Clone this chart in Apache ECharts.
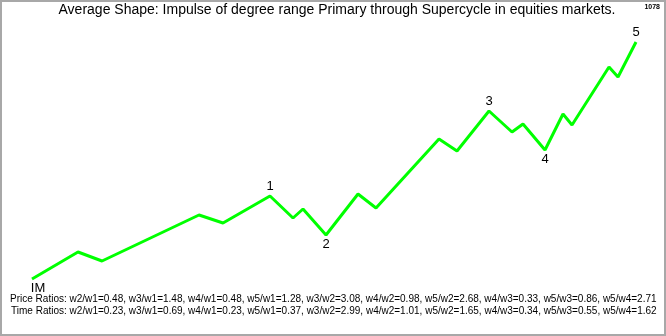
<!DOCTYPE html>
<html><head><meta charset="utf-8">
<script src="https://cdn.jsdelivr.net/npm/echarts@6/dist/echarts.min.js"></script>
<style>html,body{margin:0;padding:0;background:#fff;}#c{width:666px;height:336px;}</style>
</head><body><div id="c"></div>
<script>
// time (bars from IM) and price (from IM) of each vertex
const times  = [0, 46, 70, 167, 191, 238, 261, 271, 294, 326, 344, 407, 425, 457, 480, 491, 513, 531, 540, 577, 586, 604];
const prices = [0, 27, 18, 64, 56, 83, 61, 70, 44, 85, 71, 140, 128, 168, 147, 155, 129, 165, 154, 212, 202, 237];
const waveLabels = ['IM','','','','','1','','','2','','','','','3','','','4','','','','','5'];
const labelBelow = ['IM','2','4'];
const title = 'Average Shape: Impulse of degree range Primary through Supercycle in equities markets.';
const countText = '1078';
const priceRatios = 'Price Ratios: w2/w1=0.48, w3/w1=1.48, w4/w1=0.48, w5/w1=1.28, w3/w2=3.08, w4/w2=0.98, w5/w2=2.68, w4/w3=0.33, w5/w3=0.86, w5/w4=2.71';
const timeRatios  = 'Time Ratios: w2/w1=0.23, w3/w1=0.69, w4/w1=0.23, w5/w1=0.37, w3/w2=2.99, w4/w2=1.01, w5/w2=1.65, w4/w3=0.34, w5/w3=0.55, w5/w4=1.62';

const font = 'Arial, "Liberation Sans", sans-serif';
const data = times.map((t,i)=>{
  const lab = waveLabels[i];
  const d = {value:[t, prices[i]]};
  if (lab) {
    const below = labelBelow.includes(lab);
    d.label = {show:true, formatter: lab, position: below ? 'bottom' : 'top',
      distance: below ? 3 : 3, offset: lab==='IM' ? [6,0] : [0,0],
      color:'#000', fontSize:13, fontFamily:font};
  }
  return d;
});

const chart = echarts.init(document.getElementById('c'), null, {renderer:'canvas'});
chart.setOption({
  backgroundColor:'#fff',
  animation:false,
  grid:{left:0, right:0, top:0, bottom:0},
  xAxis:{type:'value', min:-32, max:634, show:false},
  yAxis:{type:'value', min:-57, max:279, show:false},
  graphic:[
    {type:'rect', shape:{x:1, y:1, width:664, height:334}, style:{fill:'none', stroke:'#a8a8a8', lineWidth:2}},
    {type:'text', x:337, y:3, style:{text:title, font:'14px '+font, fill:'#000', textAlign:'center'}},
    {type:'text', right:6, top:4, style:{text:countText, font:'bold 7px '+font, fill:'#000'}},
    {type:'text', x:10, y:293, scaleX:0.91, style:{text:priceRatios, font:'11px '+font, fill:'#000'}},
    {type:'text', x:11, y:305, scaleX:0.91, style:{text:timeRatios, font:'11px '+font, fill:'#000'}}
  ],
  series:[{
    type:'line', data:data, symbol:'circle', symbolSize:0, showSymbol:true,
    lineStyle:{color:'#00ff00', width:3},
    itemStyle:{color:'#00ff00'},
    z:2
  }]
});
</script></body></html>
